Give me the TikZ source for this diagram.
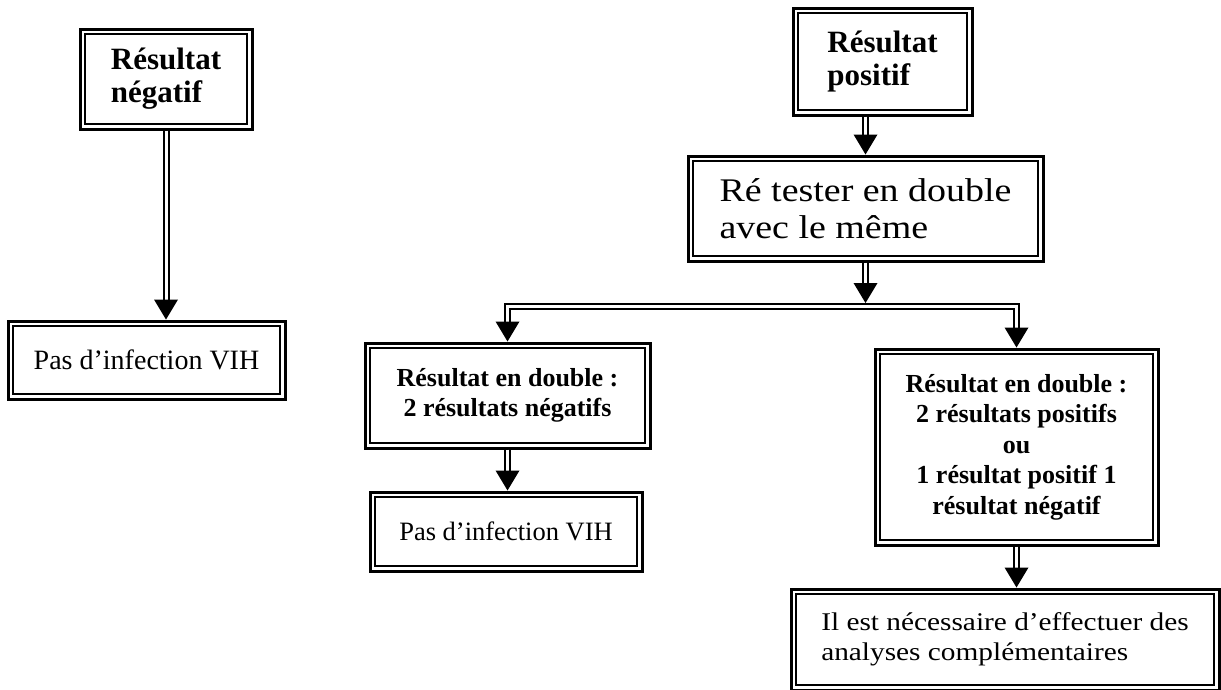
\documentclass[tikz,border=0pt]{standalone}
\usepackage{fontspec}
\setmainfont{Liberation Serif}
\newfontfamily\wideserif[FakeStretch=1.15]{Liberation Serif}
\usepackage{tikz}
\usetikzlibrary{positioning,calc}

\newcommand{\dblarrow}[2]{%
  \draw[shaft, shorten >=18pt] (#1) -- (#2);
  \fill (#2) -- ++(-12,20) -- ++(24,0) -- cycle;}

\begin{document}
\begin{tikzpicture}[x=1pt,y=1pt,
                    shaft/.style={double, double distance=3pt, line width=2pt},
                    headbold/.style={font=\fontsize{31}{33}\selectfont\bfseries, align=left},
                    midbold/.style={font=\fontsize{26}{30.5}\selectfont\bfseries, align=center}]
  \tikzstyle{box}=[draw, line width=3pt, inner sep=4pt,
    path picture={\draw[line width=1.6pt]
      ([shift={(4.8pt,4.8pt)}]path picture bounding box.south west) rectangle
      ([shift={(-4.8pt,-4.8pt)}]path picture bounding box.north east);}]
  \useasboundingbox (0,0) rectangle (1221,-689);

  \node[box,headbold,minimum width=172pt,minimum height=100pt] (neg) at (166,-79) {Résultat\\négatif};
  \node[box,font=\fontsize{28}{32}\selectfont,minimum width=277pt,minimum height=78pt]
       (pas1) [below=189pt of neg,xshift=-19.5pt] {Pas d’infection VIH};

  \node[box,headbold,minimum width=179pt,minimum height=107pt] (pos) at (882.5,-61.5) {Résultat\\positif};
  \node[box,font=\wideserif\fontsize{33}{37}\selectfont,align=left,minimum width=355pt,minimum height=105pt]
       (retest) [below=38pt of pos,xshift=-17pt] {Ré tester en double\\avec le même};
  \coordinate (split) at ([yshift=-44pt]retest.south);

  \node[box,midbold,minimum width=285pt,minimum height=105pt] (negneg) at (507.5,-395.5)
       {Résultat en double :\\2 résultats négatifs};
  \node[box,font=\fontsize{26.5}{32}\selectfont,minimum width=272pt,minimum height=79pt]
       (pas2) [below=41pt of negneg,xshift=-1.5pt] {Pas d’infection VIH};

  \node[box,midbold,minimum width=283pt,minimum height=196pt] (pospos) at (1016.5,-447)
       {Résultat en double :\\2 résultats positifs\\ou\\1 résultat positif 1\\résultat négatif};
  \node[box,font=\wideserif\fontsize{25.5}{30}\selectfont,align=left,minimum width=428pt,minimum height=101pt]
       (more) [below=41pt of pospos,xshift=-11.5pt] {Il est nécessaire d’effectuer des\\analyses complémentaires};

  \dblarrow{neg.south}{neg.south |- pas1.north}
  \dblarrow{retest.north |- pos.south}{retest.north}
  \dblarrow{retest.south}{$(split)+(0,3.5)$}
  \draw[shaft, shorten <=18pt, shorten >=18pt]
       (negneg.north) -- (negneg.north |- split) -- (pospos.north |- split) -- (pospos.north);
  \fill (negneg.north) -- ++(-12,20) -- ++(24,0) -- cycle;
  \fill (pospos.north) -- ++(-12,20) -- ++(24,0) -- cycle;
  \dblarrow{negneg.south}{negneg.south |- pas2.north}
  \dblarrow{pospos.south}{pospos.south |- more.north}
\end{tikzpicture}
\end{document}
